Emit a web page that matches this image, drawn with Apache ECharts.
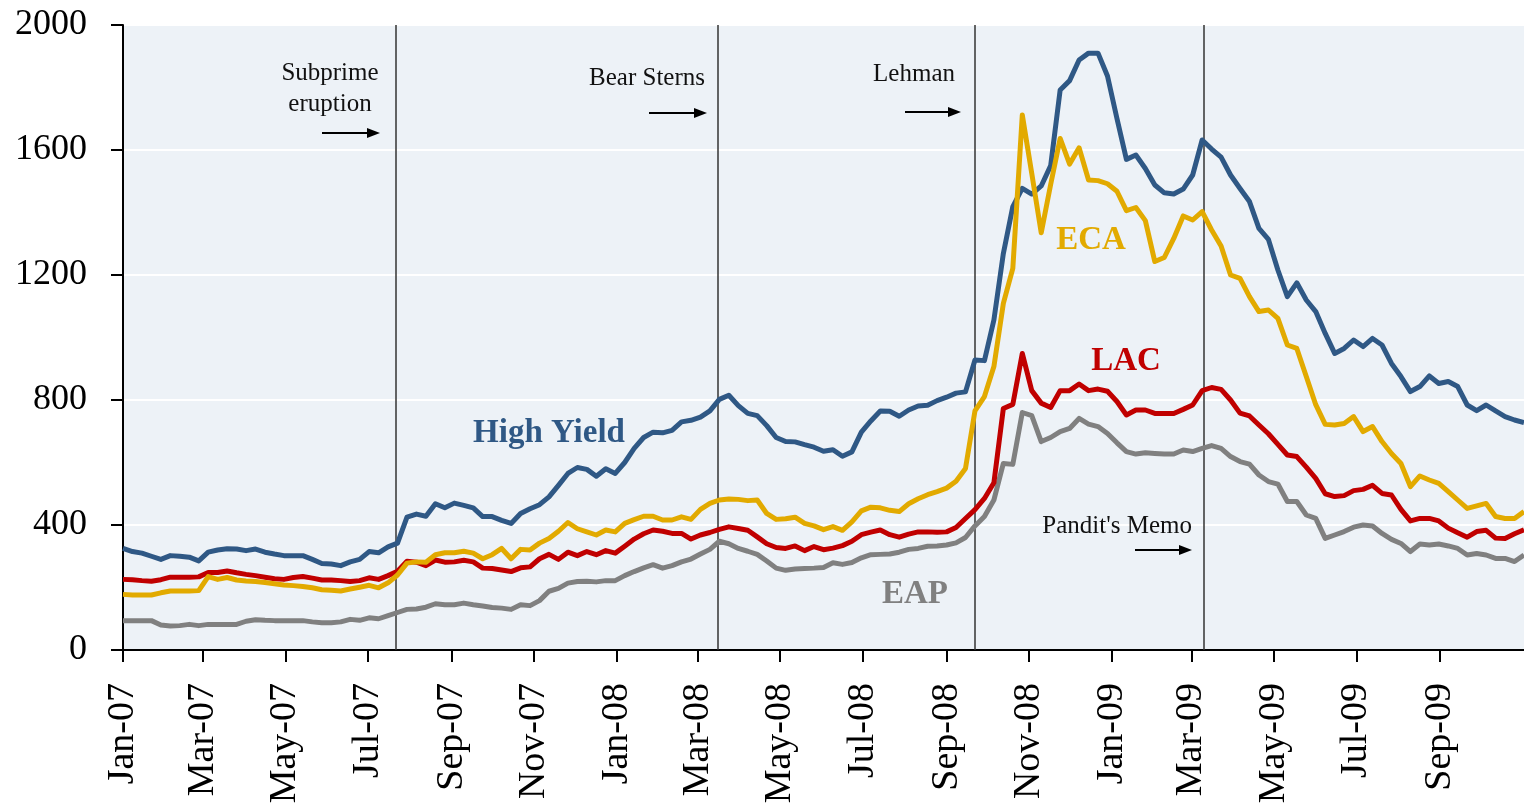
<!DOCTYPE html>
<html lang="en">
<head>
<meta charset="UTF-8">
<title>Spreads 2007-2009</title>
<style>
    html, body { margin: 0; padding: 0; background: #fff; }
    #main { width: 1524px; height: 809px; }
</style>
</head>
<body>
<div id="main"></div>
<script src="https://cdn.jsdelivr.net/npm/echarts@6/dist/echarts.min.js"></script>
<script>
// weekly observations, first one on 1 Jan 2007
var firstWeek = new Date(2007, 0, 1);

var highYield = [
    325, 315, 310, 300, 290, 302, 300, 297, 285, 313,
    320, 324, 323, 318, 323, 313, 307, 302, 302, 302,
    290, 277, 275, 270, 282, 290, 315, 311, 330, 342,
    425, 435, 428, 468, 455, 470, 463, 455, 427, 427,
    415, 405, 437, 452, 465, 490, 527, 565, 584, 578,
    556, 580, 565, 600, 645, 680, 697, 695, 703, 730,
    735, 745, 765, 802, 815, 782, 757, 750, 718, 680,
    667, 666, 657, 649, 636, 641, 620, 634, 697, 733,
    765, 764, 748, 768, 781, 783, 798, 809, 822, 826,
    928, 926, 1056, 1269, 1419, 1477, 1459, 1485, 1550, 1792,
    1822, 1888, 1910, 1910, 1837, 1701, 1570, 1584, 1541, 1488,
    1463, 1459, 1475, 1520, 1632, 1603, 1577, 1520, 1477, 1435,
    1349, 1314, 1216, 1131, 1175, 1120, 1083, 1013, 949, 965,
    992, 971, 997, 976, 917, 875, 827, 843, 877, 853,
    859, 843, 784, 766, 784, 765, 747, 736, 728
];
var eca = [
    178, 176, 176, 176, 183, 189, 189, 189, 190, 235,
    226, 232, 224, 221, 219, 216, 212, 208, 206, 203,
    199, 193, 191, 189, 195, 201, 207, 199, 215, 240,
    278, 282, 281, 305, 311, 311, 316, 310, 292, 305,
    325, 292, 322, 320, 342, 357, 380, 408, 388, 378,
    368, 384, 378, 405, 417, 428, 428, 416, 416, 426,
    418, 450, 469, 480, 483, 482, 478, 480, 437, 418,
    420, 425, 405, 397, 385, 395, 383, 410, 445, 457,
    455, 447, 443, 468, 484, 497, 507, 518, 540, 581,
    765, 811, 907, 1109, 1221, 1712, 1525, 1335, 1490, 1637,
    1555, 1607, 1504, 1502, 1492, 1468, 1406, 1416, 1374, 1243,
    1256, 1317, 1389, 1376, 1403, 1344, 1293, 1200, 1189, 1131,
    1083, 1088, 1061, 976, 965, 875, 785, 722, 720, 725,
    747, 699, 715, 667, 629, 597, 523, 557, 544, 533,
    507, 480, 453, 461, 469, 427, 421, 421, 443
];
var lac = [
    226, 225, 222, 220, 225, 233, 233, 233, 234, 248,
    248, 253, 247, 242, 238, 233, 228, 226, 232, 235,
    230, 224, 224, 222, 219, 222, 231, 226, 238, 252,
    284, 281, 270, 288, 281, 282, 287, 282, 262, 261,
    256, 251, 263, 266, 292, 306, 290, 313, 302, 315,
    305, 318, 310, 332, 355, 372, 384, 380, 373, 373,
    355, 368, 376, 386, 394, 389, 383, 362, 340, 328,
    325, 333, 318, 331, 321, 326, 334, 348, 369, 377,
    384, 369, 361, 371, 378, 378, 377, 378, 392, 421,
    449, 485, 535, 773, 786, 949, 830, 790, 776, 830,
    830, 851, 830, 835, 828, 795, 752, 768, 768, 757,
    757, 757, 770, 784, 830, 840, 834, 800, 758, 749,
    720, 692, 658, 624, 619, 585, 549, 500, 491, 494,
    510, 514, 527, 501, 496, 450, 413, 421, 421, 413,
    390, 375, 361, 379, 383, 358, 357, 372, 385
];
var eap = [
    94, 94, 94, 94, 80, 77, 78, 82, 78, 82,
    82, 82, 82, 92, 97, 95, 94, 94, 94, 94,
    90, 87, 87, 90, 98, 95, 103, 100, 110, 120,
    130, 131, 137, 148, 145, 145, 150, 145, 141, 136,
    134, 130, 145, 142, 158, 188, 197, 214, 219, 220,
    218, 222, 222, 238, 251, 263, 273, 262, 270, 282,
    291, 307, 322, 348, 340, 325, 316, 306, 285, 262,
    255, 259, 261, 262, 264, 279, 274, 280, 295, 305,
    306, 307, 313, 322, 325, 332, 333, 336, 343, 360,
    397, 427, 480, 597, 594, 760, 750, 667, 680, 699,
    709, 741, 723, 715, 693, 663, 635, 627, 631, 629,
    627, 627, 640, 635, 645, 654, 645, 619, 603, 595,
    560, 539, 531, 475, 475, 432, 421, 357, 368, 379,
    393, 400, 397, 373, 354, 341, 315, 339, 336, 339,
    333, 325, 304, 309, 304, 293, 293, 283, 304
];

// tick labels every second month
var tickMonths = [
    [2007, 0], [2007, 2], [2007, 4], [2007, 6], [2007, 8], [2007, 10],
    [2008, 0], [2008, 2], [2008, 4], [2008, 6], [2008, 8], [2008, 10],
    [2009, 0], [2009, 2], [2009, 4], [2009, 6], [2009, 8]
];
var monthNames = ['Jan', 'Feb', 'Mar', 'Apr', 'May', 'Jun', 'Jul', 'Aug', 'Sep', 'Oct', 'Nov', 'Dec'];

var events = [
    { name: 'Subprime eruption', date: [2007, 6, 22] },
    { name: 'Bear Sterns', date: [2008, 2, 16] },
    { name: 'Lehman', date: [2008, 8, 22] },
    { name: "Pandit's Memo", date: [2009, 2, 10] }
];

var serif = '"Liberation Serif", "DejaVu Serif", serif';
var colors = { hy: '#2F5885', eca: '#E2AA00', lac: '#C00000', eap: '#808080' };

function weekDate(k) {
    var d = new Date(firstWeek.getTime());
    d.setDate(d.getDate() + 7 * k);
    return d.getTime();
}
function toPairs(arr) {
    return arr.map(function (v, k) { return [weekDate(k), v]; });
}

var tickValues = tickMonths.map(function (m) { return new Date(m[0], m[1], 1).getTime(); });
var lastDate = weekDate(highYield.length - 1);

var eventLines = events.map(function (e) {
    return { xAxis: new Date(e.date[0], e.date[1], e.date[2]).getTime() };
});

function lineSeries(name, data, color, z) {
    return {
        name: name,
        type: 'line',
        data: toPairs(data),
        showSymbol: false,
        symbol: 'none',
        z: z,
        lineStyle: { color: color, width: 5, join: 'round' },
        itemStyle: { color: color },
        animation: false
    };
}

// annotation text and arrows
var notes = [
    { text: 'Subprime', x: 330, y: 73, align: 'center' },
    { text: 'eruption', x: 330, y: 104, align: 'center' },
    { text: 'Bear Sterns', x: 705, y: 78, align: 'right' },
    { text: 'Lehman', x: 955, y: 74, align: 'right' },
    { text: "Pandit's Memo", x: 1192, y: 526, align: 'right' }
];
var arrows = [
    { x1: 322, x2: 380, y: 133 },
    { x1: 649, x2: 707, y: 113 },
    { x1: 905, x2: 961, y: 112 },
    { x1: 1135, x2: 1192, y: 550 }
];
var seriesNames = [
    { text: 'High Yield', x: 549, y: 433, color: colors.hy },
    { text: 'ECA', x: 1091, y: 240, color: colors.eca },
    { text: 'LAC', x: 1126, y: 361, color: colors.lac },
    { text: 'EAP', x: 915, y: 594, color: colors.eap }
];

var graphics = [];
notes.forEach(function (n) {
    graphics.push({
        type: 'text', z: 100,
        style: { text: n.text, x: n.x, y: n.y, align: n.align, verticalAlign: 'middle',
                 font: '25px ' + serif, fill: '#111' }
    });
});
arrows.forEach(function (a) {
    graphics.push({
        type: 'line', z: 100,
        shape: { x1: a.x1, y1: a.y, x2: a.x2 - 10, y2: a.y },
        style: { stroke: '#000', lineWidth: 2 }
    });
    graphics.push({
        type: 'polygon', z: 100,
        shape: { points: [[a.x2, a.y], [a.x2 - 13, a.y - 5], [a.x2 - 13, a.y + 5]] },
        style: { fill: '#000' }
    });
});
seriesNames.forEach(function (s) {
    graphics.push({
        type: 'text', z: 100,
        style: { text: s.text, x: s.x, y: s.y, align: 'center', verticalAlign: 'middle',
                 font: 'bold 33px ' + serif, fill: s.color }
    });
});

var chart = echarts.init(document.getElementById('main'));
var hySeries = lineSeries('High Yield', highYield, colors.hy, 3);
hySeries.markLine = {
    silent: true,
    symbol: ['none', 'none'],
    label: { show: false },
    lineStyle: { color: '#333', width: 1.5, type: 'solid' },
    data: eventLines,
    z: 1,
    animation: false
};

chart.setOption({
    backgroundColor: '#fff',
    animation: false,
    grid: {
        left: 123, right: 0, top: 25, bottom: 159,
        show: true, backgroundColor: '#EDF2F7', borderWidth: 0
    },
    xAxis: {
        type: 'value',
        min: firstWeek.getTime(),
        max: lastDate,
        axisLine: { show: true, onZero: false, lineStyle: { color: '#000', width: 2 } },
        axisTick: { show: true, customValues: tickValues, length: 12, lineStyle: { color: '#000', width: 2 } },
        axisLabel: {
            customValues: tickValues,
            rotate: 90,
            margin: 33,
            fontFamily: serif,
            fontSize: 38,
            color: '#000',
            formatter: function (v) {
                var d = new Date(v);
                var yy = String(d.getFullYear()).slice(2);
                return monthNames[d.getMonth()] + '-' + yy;
            }
        },
        splitLine: { show: false }
    },
    yAxis: {
        type: 'value',
        min: 0,
        max: 2000,
        interval: 400,
        axisLine: { show: true, lineStyle: { color: '#000', width: 2 } },
        axisTick: { show: true, length: 12, lineStyle: { color: '#000', width: 2 } },
        axisLabel: {
            margin: 36, fontFamily: serif, fontSize: 36, color: '#000',
            formatter: function (v) { return String(v); }
        },
        splitLine: { show: true, lineStyle: { color: '#fff', width: 2 } }
    },
    series: [
        hySeries,
        lineSeries('EAP', eap, colors.eap, 4),
        lineSeries('LAC', lac, colors.lac, 5),
        lineSeries('ECA', eca, colors.eca, 6)
    ],
    graphic: graphics
});
</script>
</body>
</html>
